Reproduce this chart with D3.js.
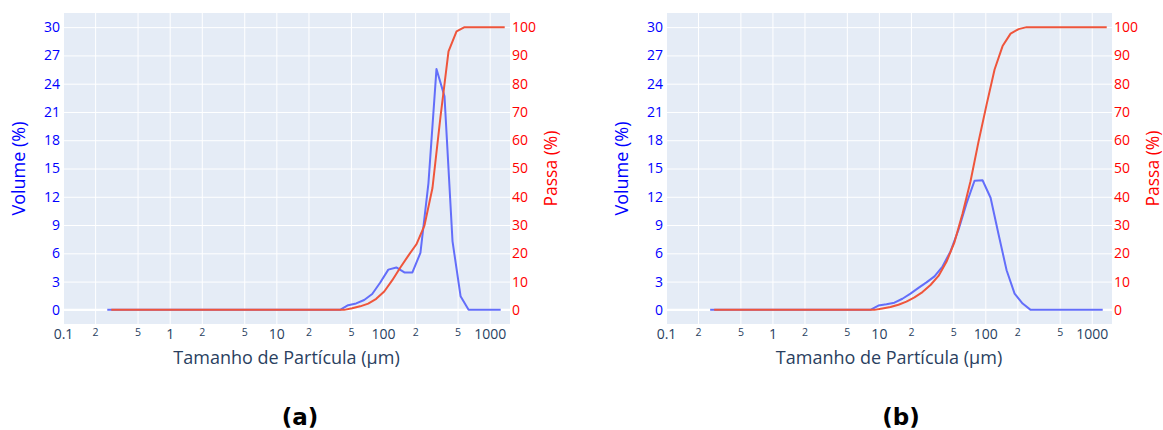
<!DOCTYPE html>
<html>
<head>
<meta charset="utf-8">
<script src="https://cdn.jsdelivr.net/npm/d3@7"></script>
<style>
  body { margin: 0; background: #fff; }
  svg { display: block; font-family: "Open Sans", verdana, arial, sans-serif; }
</style>
</head>
<body>
<div id="chart"></div>
<script>
// Size classes (µm) of the volume curve and upper edges used for the passing curve.
const sizes = [
  0.260, 0.3094, 0.368, 0.4376, 0.5204, 0.6188, 0.7359, 0.8752, 1.041, 1.238,
  1.472, 1.751, 2.082, 2.476, 2.944, 3.501, 4.164, 4.952, 5.888, 7.003,
  8.328, 9.902, 11.78, 14.0, 16.65, 19.81, 23.55, 28.01, 33.31, 39.6,
  47.1, 56.0, 66.6, 79.2, 94.2, 112.1, 133.3, 158.5, 188.5, 224.2,
  266.6, 317.0, 377.0, 448.3, 533.2, 634.0, 754.0, 896.7, 1066, 1268,
];
const sizesPassa = [
  0.2836, 0.3374, 0.4013, 0.4772, 0.5675, 0.6748, 0.8025, 0.9544, 1.135, 1.350,
  1.605, 1.909, 2.270, 2.700, 3.211, 3.818, 4.541, 5.400, 6.421, 7.637,
  9.082, 10.80, 12.85, 15.27, 18.16, 21.60, 25.68, 30.55, 36.32, 43.18,
  51.36, 61.07, 72.63, 86.37, 102.7, 122.2, 145.3, 172.8, 205.6, 244.5,
  290.7, 345.7, 411.1, 488.9, 581.4, 691.4, 822.3, 977.9, 1162.5, 1382.8,
];

// (a)
const volumeA = [
  0, 0, 0, 0, 0, 0, 0, 0, 0, 0,
  0, 0, 0, 0, 0, 0, 0, 0, 0, 0,
  0, 0, 0, 0, 0, 0, 0, 0, 0, 0,
  0.5, 0.68, 1.05, 1.68, 2.9, 4.27, 4.5, 3.97, 3.97, 6.05,
  13.45, 25.55, 22.65, 7.27, 1.45, 0, 0, 0, 0, 0,
];
const passaA = [
  0, 0, 0, 0, 0, 0, 0, 0, 0, 0,
  0, 0, 0, 0, 0, 0, 0, 0, 0, 0,
  0, 0, 0, 0, 0, 0, 0, 0, 0, 0,
  0.55, 1.25, 2.2, 3.9, 6.5, 10.5, 15.0, 19.2, 23.2, 29.8,
  43.1, 68.3, 91.4, 98.5, 100, 100, 100, 100, 100, 100,
];

// (b)
const volumeB = [
  0, 0, 0, 0, 0, 0, 0, 0, 0, 0,
  0, 0, 0, 0, 0, 0, 0, 0, 0, 0,
  0, 0.46, 0.6, 0.76, 1.18, 1.73, 2.33, 2.92, 3.55, 4.6,
  6.2, 8.5, 11.3, 13.7, 13.75, 11.9, 8.0, 4.2, 1.73, 0.67,
  0, 0, 0, 0, 0, 0, 0, 0, 0, 0,
];
const passaB = [
  0, 0, 0, 0, 0, 0, 0, 0, 0, 0,
  0, 0, 0, 0, 0, 0, 0, 0, 0, 0,
  0, 0.5, 1.0, 1.8, 2.9, 4.4, 6.3, 8.8, 12.0, 17.0,
  24.0, 34.0, 45.5, 59.5, 72.5, 85.0, 93.3, 97.7, 99.3, 100,
  100, 100, 100, 100, 100, 100, 100, 100, 100, 100,
];

// Ticks.
const xTicks = [0.1, 0.2, 0.5, 1, 2, 5, 10, 20, 50, 100, 200, 500, 1000];
const xTickLabels = ["0.1", "2", "5", "1", "2", "5", "10", "2", "5", "100", "2", "5", "1000"];
const volumeTicks = [0, 3, 6, 9, 12, 15, 18, 21, 24, 27, 30];
const passaTicks = [0, 10, 20, 30, 40, 50, 60, 70, 80, 90, 100];

const width = 1163;
const height = 430;
const plotTop = 13;
const plotHeight = 311;

const BLUE = "#636efa";
const RED = "#EF553B";
const TEXT = "#2a3f5f";

const panels = [
  { left: 63, width: 447, volume: volumeA, passa: passaA, caption: "(a)", captionX: 300 },
  { left: 666, width: 446, volume: volumeB, passa: passaB, caption: "(b)", captionX: 901 },
];

const svg = d3.select("#chart")
  .append("svg")
    .attr("width", width)
    .attr("height", height);

panels.forEach(p => {
  const x = d3.scaleLog()
    .domain([0.1, 1550])
    .range([0, p.width]);

  const yVol = d3.scaleLinear()
    .domain([-1.5, 31.5])
    .range([plotHeight, 0]);

  const yPassa = d3.scaleLinear()
    .domain([-5, 105])
    .range([plotHeight, 0]);

  const g = svg.append("g")
    .attr("transform", `translate(${p.left},${plotTop})`);

  g.append("rect")
    .attr("width", p.width)
    .attr("height", plotHeight)
    .attr("fill", "#E5ECF6");

  // Grid lines.
  g.append("g")
    .attr("class", "grid")
    .attr("transform", `translate(0,${plotHeight})`)
    .call(d3.axisBottom(x).tickValues(xTicks).tickSize(-plotHeight).tickFormat(""));

  g.append("g")
    .attr("class", "grid")
    .call(d3.axisLeft(yVol).tickValues(volumeTicks).tickSize(-p.width).tickFormat(""));

  g.selectAll(".grid .domain").remove();
  g.selectAll(".grid line")
    .attr("stroke", "#fff")
    .attr("stroke-width", 1);

  // Zero line.
  g.append("line")
    .attr("x1", 0)
    .attr("x2", p.width)
    .attr("y1", yVol(0))
    .attr("y2", yVol(0))
    .attr("stroke", "#fff")
    .attr("stroke-width", 2);

  const volLine = d3.line()
    .x((d, i) => x(sizes[i]))
    .y(d => yVol(d));

  const passaLine = d3.line()
    .x((d, i) => x(sizesPassa[i]))
    .y(d => yPassa(d));

  g.append("path")
    .datum(p.volume)
    .attr("fill", "none")
    .attr("stroke", BLUE)
    .attr("stroke-width", 2)
    .attr("stroke-linejoin", "round")
    .attr("d", volLine);

  g.append("path")
    .datum(p.passa)
    .attr("fill", "none")
    .attr("stroke", RED)
    .attr("stroke-width", 2)
    .attr("stroke-linejoin", "round")
    .attr("d", passaLine);

  // Axes.
  const xAxis = g.append("g")
    .attr("transform", `translate(0,${plotHeight})`)
    .call(d3.axisBottom(x)
      .tickValues(xTicks)
      .tickSize(0)
      .tickPadding(5)
      .tickFormat((d, i) => xTickLabels[i]));

  xAxis.selectAll("text")
    .attr("fill", TEXT)
    .style("font-size", (d, i) => xTickLabels[i].length > 1 || d === 1 ? "14px" : "10.5px");

  const leftAxis = g.append("g")
    .call(d3.axisLeft(yVol).tickValues(volumeTicks).tickSize(0).tickPadding(3));

  leftAxis.selectAll("text")
    .attr("fill", "#0000ff")
    .style("font-size", "14px");

  const rightAxis = g.append("g")
    .attr("transform", `translate(${p.width},0)`)
    .call(d3.axisRight(yPassa).tickValues(passaTicks).tickSize(0).tickPadding(2));

  rightAxis.selectAll("text")
    .attr("fill", "#ff0000")
    .style("font-size", "14px");

  g.selectAll(".domain").remove();
  g.selectAll("g.tick text").style("font-family", "'Open Sans', sans-serif");

  // Axis titles.
  g.append("text")
    .attr("x", p.width / 2)
    .attr("y", 364 - plotTop)
    .attr("text-anchor", "middle")
    .attr("fill", TEXT)
    .style("font-size", "18px")
    .text("Tamanho de Partícula (µm)");

  g.append("text")
    .attr("transform", `translate(-44.5,${plotHeight / 2}) rotate(-90)`)
    .attr("dy", "0.35em")
    .attr("text-anchor", "middle")
    .attr("fill", "#0000ff")
    .style("font-size", "18px")
    .text("Volume (%)");

  // Keep the right title inside the page edge.
  g.append("text")
    .attr("transform", `translate(${p.width + 40.5},${plotHeight / 2}) rotate(-90)`)
    .attr("dy", "0.35em")
    .attr("text-anchor", "middle")
    .attr("fill", "#ff0000")
    .style("font-size", "17.5px")
    .text("Passa (%)");

  // Caption.
  svg.append("text")
    .attr("x", p.captionX)
    .attr("y", 425)
    .attr("text-anchor", "middle")
    .attr("fill", "#000")
    .style("font-family", "'DejaVu Sans', sans-serif")
    .style("font-weight", "bold")
    .style("font-size", "23px")
    .text(p.caption);
});
</script>
</body>
</html>
